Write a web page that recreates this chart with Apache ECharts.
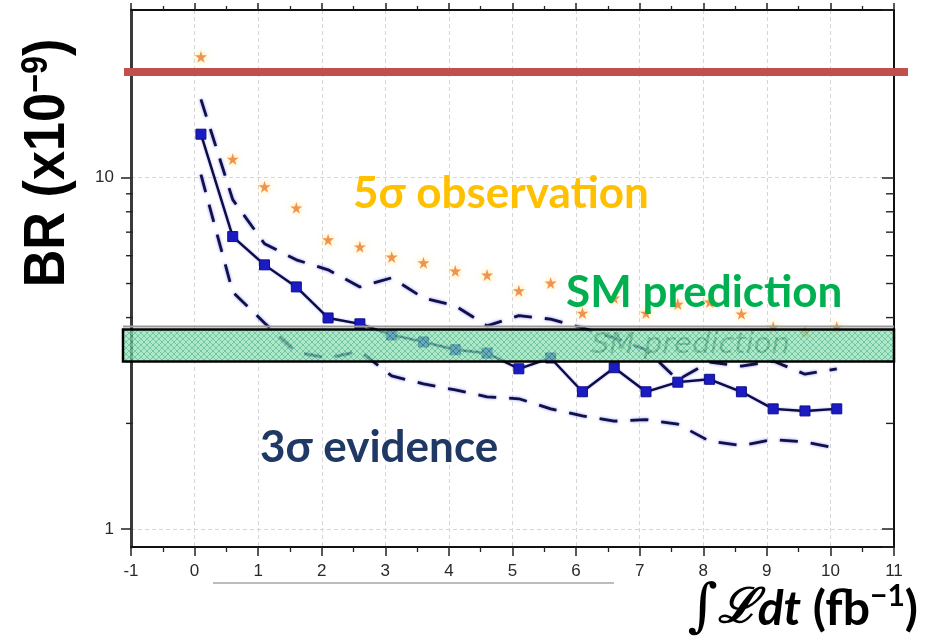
<!DOCTYPE html>
<html>
<head>
<meta charset="utf-8">
<script src="https://cdn.jsdelivr.net/npm/echarts@6/dist/echarts.min.js"></script>
<style>
  html, body { margin: 0; padding: 0; background: #ffffff; }
  #chart { width: 930px; height: 637px; }
</style>
</head>
<body>
<div id="chart"></div>
<script>
// Integrated luminosity points (fb^-1)
const lumi = [0.1, 0.6, 1.1, 1.6, 2.1, 2.6, 3.1, 3.6, 4.1, 4.6, 5.1,
              5.6, 6.1, 6.6, 7.1, 7.6, 8.1, 8.6, 9.1, 9.6, 10.1];

// BR reach for 3 sigma evidence (median) with its +/- 1 sigma band, in 1e-9
const br3SigmaMedian = [13.3, 6.8, 5.65, 4.89, 3.99, 3.84, 3.57, 3.41, 3.24, 3.17, 2.86,
                        3.07, 2.46, 2.88, 2.46, 2.62, 2.67, 2.46, 2.20, 2.17, 2.20];
const br3SigmaUpper  = [16.7, 8.66, 6.49, 5.84, 5.47, 4.89, 5.19, 4.55, 4.32, 3.79, 4.05,
                        3.96, 3.74, 3.50, 3.24, 2.66, 2.99, 2.91, 3.01, 2.76, 2.86];
const br3SigmaLower  = [10.2, 4.73, 3.86, 3.19, 3.07, 3.21, 2.73, 2.59, 2.49, 2.38, 2.35,
                        2.20, 2.10, 2.03, 2.05, 1.99, 1.78, 1.73, 1.80, 1.77, 1.70];

// BR reach for 5 sigma observation, in 1e-9
const br5Sigma = [22.1, 11.3, 9.43, 8.21, 6.66, 6.36, 5.95, 5.73, 5.43, 5.29, 4.77,
                  5.02, 4.12, 4.55, 4.12, 4.37, 4.43, 4.10, 3.76, 3.64, 3.76];

// Standard Model prediction range and existing limit, in 1e-9
const smBand = [3.0, 3.7];
const limitBR = 20;

// Axis ranges and the log-axis minor tick values
const xRange = [-1, 11];
const yRange = [0.89, 30];
const yMinorTicks = [2, 3, 4, 5, 6, 7, 8, 9, 20];

const toPairs = ys => lumi.map((x, i) => [x, ys[i]]);

// cross-hatched fill for the SM band
const hatch = document.createElement('canvas');
hatch.width = 6; hatch.height = 6;
const hg = hatch.getContext('2d');
hg.fillStyle = '#8ee0b7';
hg.fillRect(0, 0, 6, 6);
hg.strokeStyle = '#3db37a';
hg.lineWidth = 1;
hg.beginPath();
hg.moveTo(0, 0); hg.lineTo(6, 6);
hg.moveTo(6, 0); hg.lineTo(0, 6);
hg.stroke();

const STAR = 'path://M50,0 L61,35 L98,35 L68,57 L79,91 L50,70 L21,91 L32,57 L2,35 L39,35 Z';

const chart = echarts.init(document.getElementById('chart'), null, { renderer: 'canvas' });

const option = {
  animation: false,
  backgroundColor: '#ffffff',
  grid: { left: 131, right: 36, top: 10, bottom: 90 },
  xAxis: [
    {
      type: 'value', min: xRange[0], max: xRange[1], interval: 1, position: 'bottom',
      axisLine: { show: true, onZero: false, lineStyle: { color: '#111', width: 2 } },
      axisTick: { show: true, inside: false, length: 9, lineStyle: { color: '#222', width: 1.5 } },
      minorTick: { show: true, splitNumber: 2, length: 5, lineStyle: { color: '#222', width: 1.3 } },
      axisLabel: { fontFamily: 'Liberation Sans', fontSize: 17, color: '#2a2a2a', margin: 16 },
      splitLine: { show: true, lineStyle: { color: '#d6d6d6', type: [4, 3], width: 1 } }
    },
    {
      type: 'value', min: xRange[0], max: xRange[1], interval: 1, position: 'top',
      axisLine: { show: true, onZero: false, lineStyle: { color: '#111', width: 2 } },
      axisTick: { show: true, inside: false, length: 7, lineStyle: { color: '#222', width: 1.5 } },
      minorTick: { show: true, splitNumber: 2, length: 4, lineStyle: { color: '#222', width: 1.3 } },
      axisLabel: { show: false },
      splitLine: { show: false }
    }
  ],
  yAxis: [
    {
      type: 'log', logBase: 10, min: yRange[0], max: yRange[1], position: 'left',
      axisLine: { show: true, onZero: false, lineStyle: { color: '#3a3a3a', width: 3 } },
      axisTick: { show: true, inside: false, length: 10, lineStyle: { color: '#222', width: 1.5 } },
      axisLabel: {
        fontFamily: 'Liberation Sans', fontSize: 17, color: '#2a2a2a', margin: 17,
        showMinLabel: false, showMaxLabel: false,
        formatter: v => (Math.abs(Math.log10(v) - Math.round(Math.log10(v))) < 1e-6 ? String(Math.round(v)) : '')
      },
      splitLine: { show: true, lineStyle: { color: '#d6d6d6', type: [4, 3], width: 1 } }
    },
    {
      type: 'log', logBase: 10, min: yRange[0], max: yRange[1], position: 'right',
      axisLine: { show: true, onZero: false, lineStyle: { color: '#111', width: 2 } },
      axisTick: { show: true, inside: true, length: 12, lineStyle: { color: '#222', width: 1.5 } },
      axisLabel: { show: false },
      splitLine: { show: false }
    }
  ],
  series: [
    {
      // log-scale minor ticks on both vertical axes
      type: 'custom', name: 'minorTicks', xAxisIndex: 0, yAxisIndex: 0, z: 3,
      data: yMinorTicks.map(v => [xRange[0], v]),
      renderItem: (params, api) => {
        const cs = params.coordSys;
        const y = api.coord([api.value(0), api.value(1)])[1];
        const st = { stroke: '#222', lineWidth: 1.4 };
        return {
          type: 'group',
          children: [
            { type: 'line', shape: { x1: cs.x - 5, y1: y, x2: cs.x + 2, y2: y }, style: st },
            { type: 'line', shape: { x1: cs.x + cs.width - 8, y1: y, x2: cs.x + cs.width, y2: y }, style: st }
          ]
        };
      }
    },
    {
      name: '3σ +1σ', type: 'line', data: toPairs(br3SigmaUpper),
      showSymbol: false, symbol: 'none', z: 4,
      lineStyle: { color: '#10104a', width: 2.8, type: [18, 13], shadowColor: 'rgba(40,40,230,0.55)', shadowBlur: 3 }
    },
    {
      name: '3σ -1σ', type: 'line', data: toPairs(br3SigmaLower),
      showSymbol: false, symbol: 'none', z: 4,
      lineStyle: { color: '#10104a', width: 2.8, type: [18, 13], shadowColor: 'rgba(40,40,230,0.55)', shadowBlur: 3 }
    },
    {
      name: '3σ evidence', type: 'line', data: toPairs(br3SigmaMedian),
      symbol: 'rect', symbolSize: 10, z: 5,
      itemStyle: { color: '#1b1bc4', borderColor: '#10108a', borderWidth: 1 },
      lineStyle: { color: '#0c0c46', width: 2.4, shadowColor: 'rgba(40,40,230,0.5)', shadowBlur: 2 }
    },
    {
      name: '5σ observation', type: 'scatter', data: toPairs(br5Sigma),
      symbol: STAR, symbolSize: 12, z: 5,
      itemStyle: { color: '#ec7a2c', shadowColor: 'rgba(255,215,80,0.95)', shadowBlur: 7 }
    },
    {
      // SM prediction band
      type: 'custom', name: 'SM prediction', xAxisIndex: 0, yAxisIndex: 0, z: 8,
      data: [[xRange[0], smBand[0], smBand[1]]],
      renderItem: (params, api) => {
        const cs = params.coordSys;
        const yLow = api.coord([api.value(0), api.value(1)])[1];
        const yHigh = api.coord([api.value(0), api.value(2)])[1];
        const x0 = cs.x - 8, x1 = cs.x + cs.width;
        const midX = api.coord([7.8, api.value(1)])[0];
        return {
          type: 'group',
          children: [
            { type: 'line', shape: { x1: x0, y1: yHigh - 3, x2: x1, y2: yHigh - 3 },
              style: { stroke: '#9a9a9a', lineWidth: 2 } },
            { type: 'text', x: midX, y: (yLow + yHigh) / 2,
              style: { text: 'SM prediction', fill: '#3f6453', opacity: 0.85,
                       font: 'italic 29px "DejaVu Sans"', align: 'center', verticalAlign: 'middle' } },
            { type: 'rect', shape: { x: x0, y: yHigh, width: x1 - x0, height: yLow - yHigh },
              style: { fill: { image: hatch, repeat: 'repeat' }, opacity: 0.72 } },
            { type: 'rect', shape: { x: x0, y: yHigh, width: x1 - x0, height: yLow - yHigh },
              style: { fill: 'none', stroke: '#000', lineWidth: 2.5 } }
          ]
        };
      }
    },
    {
      // current upper limit
      type: 'custom', name: 'limit', xAxisIndex: 0, yAxisIndex: 0, z: 9,
      data: [[xRange[0], limitBR]],
      renderItem: (params, api) => {
        const cs = params.coordSys;
        const y = api.coord([api.value(0), api.value(1)])[1];
        return {
          type: 'line',
          shape: { x1: cs.x - 7, y1: y, x2: cs.x + cs.width + 14, y2: y },
          style: { stroke: '#c0504d', lineWidth: 8 }
        };
      }
    }
  ],
  graphic: [
    {
      type: 'text', x: 48, y: 163, rotation: Math.PI / 2, scaleX: 0.9, z: 20,
      style: {
        text: '{b|BR (x10}{s|−9}{b|)}',
        align: 'center', verticalAlign: 'middle',
        rich: {
          b: { font: 'bold 58px "Liberation Sans"', fill: '#000' },
          s: { font: 'bold 36px "Liberation Sans"', fill: '#000', verticalAlign: 'top' }
        }
      }
    },
    {
      type: 'text', x: 918, y: 610, z: 20,
      style: {
        text: '{i|∫}{l|ℒ}{d|dt}{n| (fb}{s|−1}{n|)}',
        align: 'right', verticalAlign: 'middle',
        rich: {
          i: { font: 'italic 58px "DejaVu Serif"', fill: '#000' },
          l: { font: 'italic bold 48px "DejaVu Serif"', fill: '#000' },
          d: { font: 'italic bold 48px Lato', fill: '#000' },
          n: { font: 'bold 48px Lato', fill: '#000' },
          s: { font: 'bold 30px Lato', fill: '#000', verticalAlign: 'top' }
        }
      }
    },
    {
      type: 'line', z: 20,
      shape: { x1: 213, y1: 583, x2: 614, y2: 583 },
      style: { stroke: '#7a7a7a', lineWidth: 1 }
    },
    {
      type: 'text', x: 353, y: 194, z: 20,
      style: { text: '5σ observation', font: 'bold 44px Lato', fill: '#ffc000', align: 'left', verticalAlign: 'middle' }
    },
    {
      type: 'text', x: 566, y: 293, z: 20,
      style: { text: 'SM prediction', font: 'bold 44px Lato', fill: '#00b050', align: 'left', verticalAlign: 'middle' }
    },
    {
      type: 'text', x: 260, y: 448, z: 20,
      style: { text: '3σ evidence', font: 'bold 44px Lato', fill: '#1f3864', align: 'left', verticalAlign: 'middle' }
    }
  ]
};

chart.setOption(option);
</script>
</body>
</html>
